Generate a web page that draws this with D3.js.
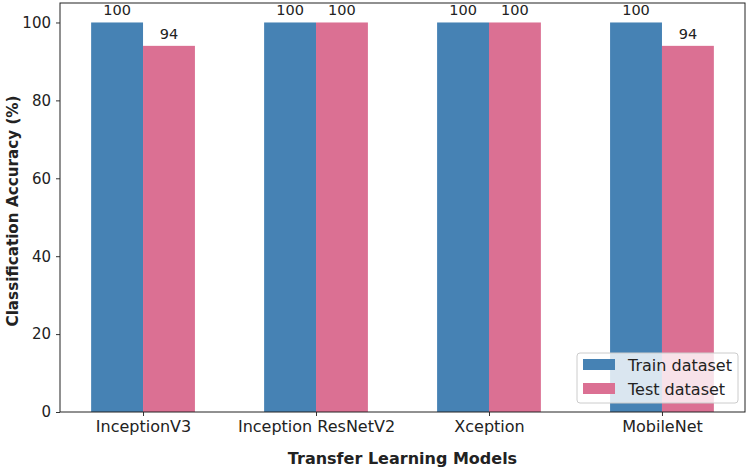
<!DOCTYPE html>
<html><head><meta charset="utf-8">
<script src="https://cdn.jsdelivr.net/npm/d3@7"></script>
<style>body{margin:0;background:#fff}svg{display:block}text{font-family:"DejaVu Sans",sans-serif;fill:#222}</style>
</head><body><svg id="c" width="750" height="468"></svg>
<script>
const categories = ["InceptionV3", "Inception ResNetV2", "Xception", "MobileNet"];
const trainValues = [100, 100, 100, 100];
const testValues = [94, 100, 100, 94];
const seriesNames = ["Train dataset", "Test dataset"];
const seriesColors = ["#4682b4", "#db7093"];
const yTicks = [0, 20, 40, 60, 80, 100];

const svg = d3.select("#c");
const L = 60, R = 745, T = 3, B = 412;
const x = d3.scaleLinear().domain([-0.48, 3.48]).range([L, R]);
const y = d3.scaleLinear().domain([0, 105]).range([B, T]);
const bw = 0.3;

const series = [trainValues, testValues];
series.forEach((vals, si) => {
  const off = si === 0 ? -bw : 0;
  svg.append("g").selectAll("rect").data(vals).join("rect")
    .attr("x", (d, i) => x(i + off))
    .attr("width", (d, i) => x(i + off + bw) - x(i + off))
    .attr("y", d => y(d))
    .attr("height", d => y(0) - y(d))
    .attr("fill", seriesColors[si]);
  svg.append("g").selectAll("text").data(vals).join("text")
    .attr("x", (d, i) => x(i + off + bw / 2))
    .attr("y", d => y(d) - 7)
    .attr("text-anchor", "middle")
    .attr("font-size", 14.5)
    .text(d => d);
});

// axes
const yAxis = d3.axisLeft(y).tickValues(yTicks).tickSize(4).tickPadding(5);
const gy = svg.append("g").attr("transform", `translate(${L},0)`).call(yAxis);
gy.select(".domain").remove();
gy.selectAll("text").attr("font-size", 15).attr("font-family", "DejaVu Sans").attr("fill", "#222");
gy.selectAll("line").attr("stroke", "#333");

const xAxis = d3.axisBottom(x).tickValues(d3.range(categories.length)).tickFormat(i => categories[i]).tickSize(4).tickPadding(5);
const gx = svg.append("g").attr("transform", `translate(0,${B})`).call(xAxis);
gx.select(".domain").remove();
gx.selectAll("text").attr("font-size", 16).attr("font-family", "DejaVu Sans").attr("fill", "#222");
gx.selectAll("line").attr("stroke", "#333");

// frame
svg.append("rect").attr("x", L).attr("y", T).attr("width", R - L).attr("height", B - T)
  .attr("fill", "none").attr("stroke", "#222").attr("stroke-width", 1);

// titles
svg.append("text").attr("x", (L + R) / 2).attr("y", 464).attr("text-anchor", "middle")
  .attr("font-size", 16).attr("font-weight", "bold").text("Transfer Learning Models");
svg.append("text").attr("transform", `translate(18,211) rotate(-90)`).attr("text-anchor", "middle")
  .attr("font-size", 15.2).attr("font-weight", "bold").text("Classification Accuracy (%)");

// legend
const lg = svg.append("g").attr("transform", "translate(577,353)");
lg.append("rect").attr("width", 161).attr("height", 50).attr("rx", 3)
  .attr("fill", "rgba(255,255,255,0.8)").attr("stroke", "#ccc");
seriesNames.forEach((n, i) => {
  lg.append("rect").attr("x", 6).attr("y", 6 + i * 24).attr("width", 32).attr("height", 11).attr("fill", seriesColors[i]);
  lg.append("text").attr("x", 51).attr("y", 18 + i * 24).attr("font-size", 16).text(n);
});
</script></body></html>
